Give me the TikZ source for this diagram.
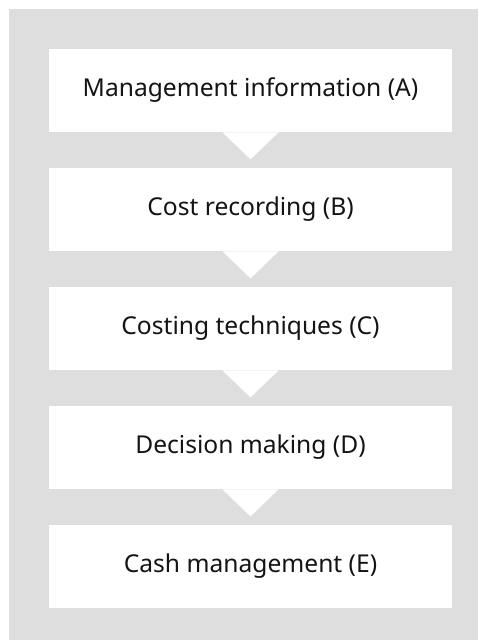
\documentclass[tikz,border=0pt]{standalone}
\usepackage{fontspec}
\setmainfont{Noto Sans}
\usepackage{tikz}
\usetikzlibrary{positioning}

\definecolor{panelgray}{RGB}{221,222,221}
\definecolor{textblack}{RGB}{20,20,20}

\begin{document}
\begin{tikzpicture}[
    stage/.style={fill=white, minimum width=201.5pt, minimum height=41.5pt,
      inner sep=0pt, text=textblack, font=\fontsize{12.3}{14}\selectfont},
    pointer/.style={fill=white}
  ]
      \useasboundingbox (0,0) rectangle (239pt,-320pt);
      \fill[panelgray] (4.5pt,-4.5pt) rectangle (239pt,-320pt);

      \node [stage] (mgmt) at (125.25pt,-45.25pt) {Management information (A)};
      \node [stage, below = 17.6pt of mgmt] (record) {Cost recording (B)};
      \node [stage, below = 17.6pt of record] (tech) {Costing techniques (C)};
      \node [stage, below = 17.6pt of tech] (decide) {Decision making (D)};
      \node [stage, below = 17.6pt of decide] (cash) {Cash management (E)};

      % pointers between the stages
      \foreach \from in {mgmt, record, tech, decide}
        \fill [pointer] ([xshift=-14pt]\from.south) -- ([yshift=-13.5pt]\from.south)
          -- ([xshift=14pt]\from.south) -- cycle;
\end{tikzpicture}
\end{document}
